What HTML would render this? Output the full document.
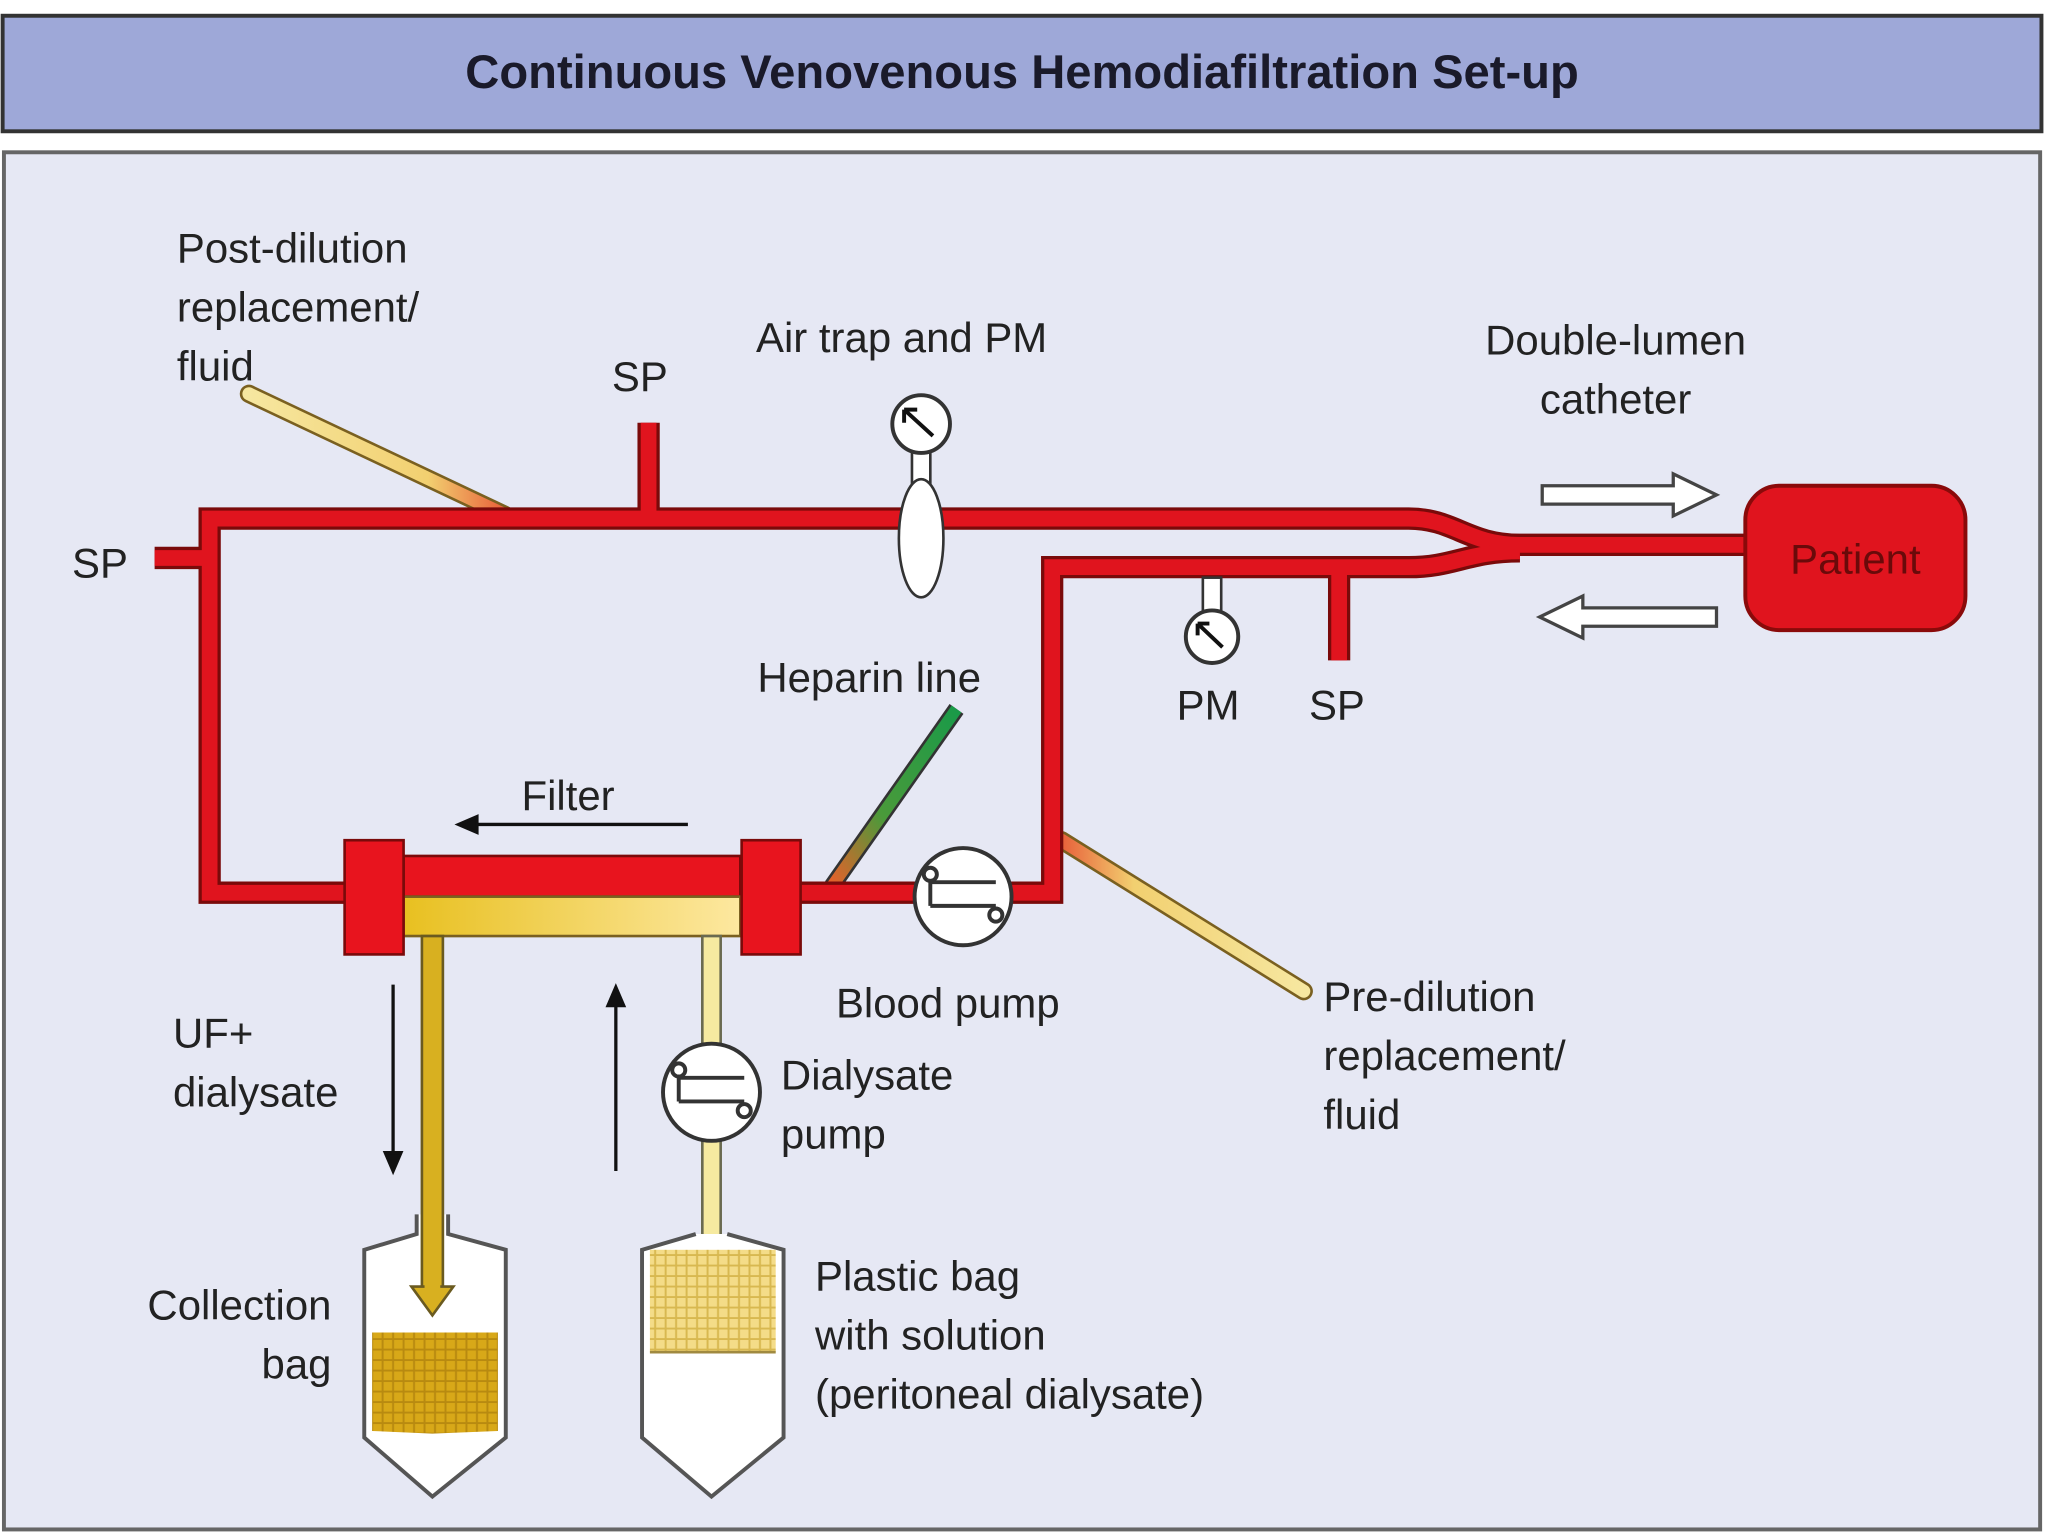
<!DOCTYPE html>
<html><head><style>html,body{margin:0;padding:0;background:#fff}svg{display:block}</style></head>
<body>
<svg width="2048" height="1536" viewBox="0 0 1563 1170" preserveAspectRatio="none" xmlns="http://www.w3.org/2000/svg" font-family="Liberation Sans, sans-serif">
<defs>
<linearGradient id="post" x1="0" y1="0" x2="1" y2="0"><stop offset="0" stop-color="#f6e7a0"/><stop offset="0.7" stop-color="#f2d070"/><stop offset="1" stop-color="#e8603a"/></linearGradient>
<linearGradient id="pre" x1="1" y1="0" x2="0" y2="0"><stop offset="0" stop-color="#f6e7a0"/><stop offset="0.7" stop-color="#f2d070"/><stop offset="1" stop-color="#e8603a"/></linearGradient>
<linearGradient id="hep" x1="1" y1="0" x2="0" y2="1"><stop offset="0" stop-color="#1a9a48"/><stop offset="0.6" stop-color="#4a9a3a"/><stop offset="1" stop-color="#e8602a"/></linearGradient>
<linearGradient id="filt" x1="0" y1="0" x2="1" y2="0"><stop offset="0" stop-color="#e8c020"/><stop offset="1" stop-color="#fde8a0"/></linearGradient>
<pattern id="hatch" width="8" height="8" patternUnits="userSpaceOnUse"><rect width="8" height="8" fill="#d8a818"/><path d="M0 4H8M4 0V8" stroke="#b88a10" stroke-width="1.5"/></pattern>
<pattern id="hatch2" width="8" height="8" patternUnits="userSpaceOnUse"><rect width="8" height="8" fill="#f4dc88"/><path d="M0 4H8M4 0V8" stroke="#d8b850" stroke-width="1.5"/></pattern>
</defs>
<rect width="1563" height="1170" fill="#fff"/>
<rect x="2" y="12" width="1556" height="88" fill="#9ea8d8" stroke="#333" stroke-width="3"/>
<text x="780" y="67" text-anchor="middle" font-size="36" font-weight="bold" fill="#1a1a2a">Continuous Venovenous Hemodiafiltration Set-up</text>
<rect x="3" y="116" width="1554" height="1049" fill="#e6e8f4" stroke="#666" stroke-width="3"/>

<line x1="190" y1="300" x2="385" y2="392" stroke="#7a6020" stroke-width="14" stroke-linecap="round"/>
<line x1="190" y1="300" x2="385" y2="392" stroke="url(#post)" stroke-width="10" stroke-linecap="round"/>
<line x1="810" y1="640" x2="995" y2="755" stroke="#7a6020" stroke-width="14" stroke-linecap="round"/>
<line x1="810" y1="640" x2="995" y2="755" stroke="url(#pre)" stroke-width="10" stroke-linecap="round"/>
<line x1="730" y1="540" x2="635" y2="675" stroke="#333" stroke-width="13"/>
<line x1="730" y1="540" x2="635" y2="675" stroke="url(#hep)" stroke-width="9"/>

<g fill="none" stroke="#7a0a0a" stroke-width="17" stroke-linejoin="miter">
<path d="M270 680 H160 V395 H1075 C1110 395 1120 415 1160 415 H1340"/>
<path d="M118 425 H160"/><path d="M495 322 V395"/>
<path d="M611 680 H803 V432 H1075 C1110 432 1120 420 1160 420"/>
<path d="M1022 432 V503"/>
</g>
<g fill="none" stroke="#e0141e" stroke-width="12" stroke-linejoin="miter">
<path d="M270 680 H160 V395 H1075 C1110 395 1120 415 1160 415 H1340"/>
<path d="M118 425 H160"/><path d="M495 322 V395"/>
<path d="M611 680 H803 V432 H1075 C1110 432 1120 420 1160 420"/>
<path d="M1022 432 V503"/>
</g>

<rect x="308" y="652" width="257" height="31" fill="#e8141e" stroke="#7a0a0a" stroke-width="2"/>
<rect x="308" y="683" width="257" height="30" fill="url(#filt)" stroke="#7a6020" stroke-width="2"/>
<rect x="263" y="640" width="45" height="87" fill="#e8141e" stroke="#7a0a0a" stroke-width="2"/>
<rect x="566" y="640" width="45" height="87" fill="#e8141e" stroke="#7a0a0a" stroke-width="2"/>

<rect x="536" y="713" width="14" height="240" fill="#f6eaa0" stroke="#6a6a50" stroke-width="2"/>

<path d="M318 925 V940 L278 952 V1095 L330 1140 L386 1095 V952 L342 940 V925" fill="#fff" stroke="#555" stroke-width="3"/>
<path d="M284 1015 H380 V1090 L330 1092 L284 1090 Z" fill="url(#hatch)"/>
<path d="M531 940 L490 952 V1095 L543 1140 L598 1095 V952 L555 940" fill="#fff" stroke="#555" stroke-width="3"/>
<rect x="496" y="952" width="96" height="78" fill="url(#hatch2)"/>
<line x1="496" y1="1030" x2="592" y2="1030" stroke="#a08a40" stroke-width="2"/>

<rect x="322" y="713" width="16" height="270" fill="#d8b020" stroke="#6a5a20" stroke-width="2"/>
<path d="M314 980 L330 1002 L346 980 Z" fill="#d8b020" stroke="#6a5a20" stroke-width="2"/>
<rect x="324" y="975" width="12" height="8" fill="#d8b020"/>

<g fill="#fff" stroke="#333" stroke-width="3">
<circle cx="735" cy="683" r="37"/>
<circle cx="543" cy="832" r="37"/>
</g>
<g fill="none" stroke="#333" stroke-width="3">
<path d="M710 672 H760 M710 690 H760 M710 672 V690"/><circle cx="710" cy="666" r="5"/><circle cx="760" cy="697" r="5"/>
<path d="M518 821 H568 M518 839 H568 M518 821 V839"/><circle cx="518" cy="815" r="5"/><circle cx="568" cy="846" r="5"/>
</g>

<rect x="696" y="340" width="14" height="40" fill="#fff" stroke="#333" stroke-width="2"/>
<ellipse cx="703" cy="410" rx="17" ry="45" fill="#fff" stroke="#333" stroke-width="2"/>
<circle cx="703" cy="323" r="22" fill="#fff" stroke="#333" stroke-width="3"/>
<path d="M712 332 L690 312 M690 312 l0 10 M690 312 l10 0" stroke="#111" stroke-width="3" fill="none"/>
<rect x="918" y="440" width="14" height="28" fill="#fff" stroke="#333" stroke-width="2"/>
<circle cx="925" cy="485" r="20" fill="#fff" stroke="#333" stroke-width="3"/>
<path d="M933 493 L914 475 M914 475 l0 9 M914 475 l9 0" stroke="#111" stroke-width="3" fill="none"/>

<rect x="1332" y="370" width="168" height="110" rx="26" fill="#e0141e" stroke="#8a0a0a" stroke-width="3"/>
<text x="1416" y="437" text-anchor="middle" font-size="32" fill="#6a0a0a">Patient</text>

<path d="M1177 370 H1277 V361 L1310 377 L1277 393 V384 H1177 Z" fill="#fff" stroke="#444" stroke-width="2.5"/>
<path d="M1310 463 H1208 V454 L1175 470 L1208 486 V477 H1310 Z" fill="#fff" stroke="#444" stroke-width="2.5"/>

<g stroke="#111" stroke-width="2.5" fill="#111">
<line x1="525" y1="628" x2="360" y2="628"/><path d="M350 628 L364 622 L364 634 Z"/>
<line x1="300" y1="750" x2="300" y2="880"/><path d="M300 892 L294 878 L306 878 Z"/>
<line x1="470" y1="892" x2="470" y2="765"/><path d="M470 752 L464 766 L476 766 Z"/>
</g>

<g font-size="32" fill="#222">
<text x="135" y="200">Post-dilution</text>
<text x="135" y="245">replacement/</text>
<text x="135" y="290">fluid</text>
<text x="467" y="298">SP</text>
<text x="577" y="268">Air trap and PM</text>
<text x="1233" y="270" text-anchor="middle">Double-lumen</text>
<text x="1233" y="315" text-anchor="middle">catheter</text>
<text x="55" y="440">SP</text>
<text x="578" y="527">Heparin line</text>
<text x="898" y="548">PM</text>
<text x="999" y="548">SP</text>
<text x="398" y="617">Filter</text>
<text x="638" y="775">Blood pump</text>
<text x="1010" y="770">Pre-dilution</text>
<text x="1010" y="815">replacement/</text>
<text x="1010" y="860">fluid</text>
<text x="132" y="798">UF+</text>
<text x="132" y="843">dialysate</text>
<text x="596" y="830">Dialysate</text>
<text x="596" y="875">pump</text>
<text x="253" y="1005" text-anchor="end">Collection</text>
<text x="253" y="1050" text-anchor="end">bag</text>
<text x="622" y="983">Plastic bag</text>
<text x="622" y="1028">with solution</text>
<text x="622" y="1073">(peritoneal dialysate)</text>
</g>
</svg>
</body></html>
